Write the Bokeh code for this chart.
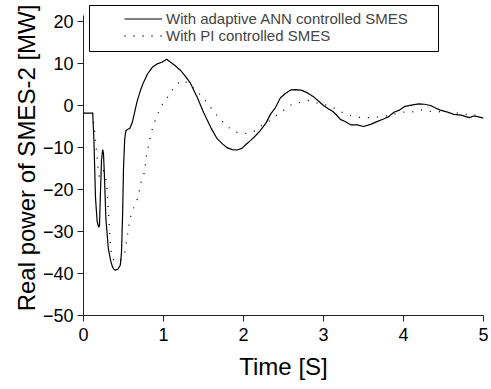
from bokeh.plotting import figure
from bokeh.models import Range1d, SingleIntervalTicker, Legend, LegendItem, BoxAnnotation
from bokeh.embed import file_html
from bokeh.resources import INLINE

# Time [S] and real power [MW] – adaptive ANN controlled SMES (solid)
t_ann = [0, 0.115, 0.13, 0.15, 0.17, 0.19, 0.2, 0.21, 0.225, 0.24, 0.25, 0.26, 0.28, 0.31,
         0.34, 0.36, 0.38, 0.40, 0.43, 0.46, 0.475, 0.49, 0.50, 0.515, 0.53, 0.55, 0.58,
         0.61, 0.64, 0.67, 0.71, 0.75, 0.80, 0.86, 0.92, 0.98, 1.04, 1.08, 1.14, 1.21,
         1.28, 1.34, 1.42, 1.50, 1.59, 1.67, 1.74, 1.80, 1.86, 1.92, 1.98, 2.03, 2.09,
         2.15, 2.21, 2.28, 2.34, 2.40, 2.46, 2.52, 2.59, 2.66, 2.73, 2.80, 2.88, 2.94,
         3.0, 3.06, 3.11, 3.16, 3.21, 3.27, 3.34, 3.42, 3.5, 3.59, 3.66, 3.75, 3.82,
         3.88, 3.95, 4.02, 4.10, 4.19, 4.26, 4.34, 4.40, 4.46, 4.54, 4.63, 4.72, 4.82,
         4.88, 4.94, 5.0]
p_ann = [-1.8, -1.8, -8, -22, -27.5, -29, -28.5, -22, -13, -10.5, -11.5, -16, -27, -34,
         -37, -38.3, -39, -39.2, -39, -38, -35, -25, -15, -8, -6, -5.7, -5.4,
         -4, -1.5, 1, 3.5, 5.5, 7.5, 9.1, 9.9, 10.3, 11, 10.4, 9.6, 8.4,
         6.8, 5.2, 2, -1.6, -5.2, -7.9, -9.2, -10.1, -10.5, -10.6, -10.2, -9.3, -8.3,
         -7.2, -6, -4.2, -2, -0.5, 1.8, 2.8, 3.7, 3.8, 3.6, 3, 2, 1,
         0, -0.8, -1.3, -2.2, -3.3, -3.8, -4.6, -4.6, -5, -4.5, -3.9, -3.2, -2.6,
         -1.6, -1.1, -0.2, 0.1, 0.4, 0.3, 0, -0.6, -1.1, -1.5, -2.1, -2.3, -2.9,
         -2.5, -2.7, -3]

# PI controlled SMES (dotted)
t_pi = [0, 0.115, 0.125, 0.14, 0.15, 0.16, 0.17, 0.18, 0.19, 0.2, 0.22, 0.25, 0.27, 0.29,
        0.30, 0.31, 0.32, 0.33, 0.34, 0.36, 0.41, 0.46, 0.51, 0.54, 0.56, 0.58, 0.61,
        0.66, 0.69, 0.71, 0.73, 0.75, 0.77, 0.78, 0.80, 0.825, 0.85, 0.88, 0.92, 0.97,
        1.04, 1.12, 1.18, 1.23, 1.28, 1.33, 1.42, 1.50, 1.58, 1.65, 1.73, 1.82, 1.90,
        2.01, 2.12, 2.21, 2.32, 2.41, 2.5, 2.6, 2.7, 2.81, 2.92, 3.02, 3.13, 3.23,
        3.34, 3.44, 3.55, 3.66, 3.77, 3.88, 3.99, 4.1, 4.21, 4.32, 4.42, 4.54, 4.64,
        4.75, 4.86, 4.98]
p_pi = [-1.8, -1.8, -4, -6.2, -8.3, -10.3, -12.3, -14.4, -16.4, -17, -16, -15.5, -16.5, -19,
        -21.5, -25, -28, -31, -34, -36.5, -37.2, -37, -35.7, -32, -29.6, -27, -25,
        -23.2, -21.2, -19, -17.5, -16.9, -14.8, -12.7, -10.7, -8.5, -6.3, -4.4, -2.4, -0.2,
        1.7, 3.9, 5.3, 6, 5.6, 4.9, 3.4, 1.7, -0.2, -2, -3.7, -5.3, -6.3,
        -6.7, -6.3, -5, -3.7, -2.4, -1.2, 0.2, 0.7, 1.2, 0.6, 0.2, -0.6, -1.6,
        -2.4, -2.8, -2.9, -2.8, -2.5, -2, -1.6, -1.6, -1, -1.4, -1.4, -1.7, -1.7,
        -2, -2.4, -2]

labels = ["With adaptive ANN controlled SMES", "With PI controlled SMES"]
x_title = "Time [S]"
y_title = "Real power of SMES-2 [MW]"

FONT = "Liberation Sans"

p = figure(frame_width=400, frame_height=315, output_backend="svg", toolbar_location=None,
           x_range=Range1d(0, 5), y_range=Range1d(-50, 25.0),
           min_border_left=83, min_border_right=8, min_border_top=0, min_border_bottom=74,
           x_axis_label=x_title, y_axis_label=y_title)
p.outline_line_color = None
p.grid.visible = False
p.background_fill_color = "white"

p.xaxis.ticker = SingleIntervalTicker(interval=1, num_minor_ticks=0)
p.yaxis.ticker = SingleIntervalTicker(interval=10, num_minor_ticks=0)
p.yaxis.bounds = (-50, 21.4)
for ax in (p.xaxis, p.yaxis):
    ax.major_tick_out = 6
    ax.major_tick_in = 0
    ax.minor_tick_out = 0
    ax.minor_tick_in = 0
    ax.axis_line_color = "#222222"
    ax.major_tick_line_color = "#222222"
    ax.major_label_text_font = FONT
    ax.major_label_text_font_size = "18px"
    ax.major_label_text_color = "black"
    ax.axis_label_text_font = FONT
    ax.axis_label_text_font_size = "24px"
    ax.axis_label_text_font_style = "normal"
    ax.axis_label_text_color = "black"
p.xaxis.major_label_standoff = 6
p.yaxis.major_label_standoff = 4
p.xaxis.axis_label_standoff = 9
p.yaxis.axis_label_standoff = 0

r1 = p.line(t_ann, p_ann, line_color="black", line_width=1.2)
r2 = p.line(t_pi, p_pi, line_color="black", line_width=1.3, line_dash="1 8")

legend = Legend(items=[LegendItem(label=labels[0], renderers=[r1]),
                       LegendItem(label=labels[1], renderers=[r2])],
                location=(33, 263), padding=8, spacing=0, margin=0,
                glyph_width=38, glyph_height=15, label_height=15, label_standoff=4,
                label_text_font=FONT, label_text_font_size="15px",
                border_line_alpha=0, background_fill_alpha=0)
p.add_layout(legend, "center")

box = BoxAnnotation(left=89, right=438, top=5, bottom=51,
                    left_units="canvas", right_units="canvas",
                    top_units="canvas", bottom_units="canvas",
                    fill_alpha=0, line_color="black", line_width=1, line_alpha=1)
p.add_layout(box)

open("out.html", "w").write(file_html(p, INLINE))
